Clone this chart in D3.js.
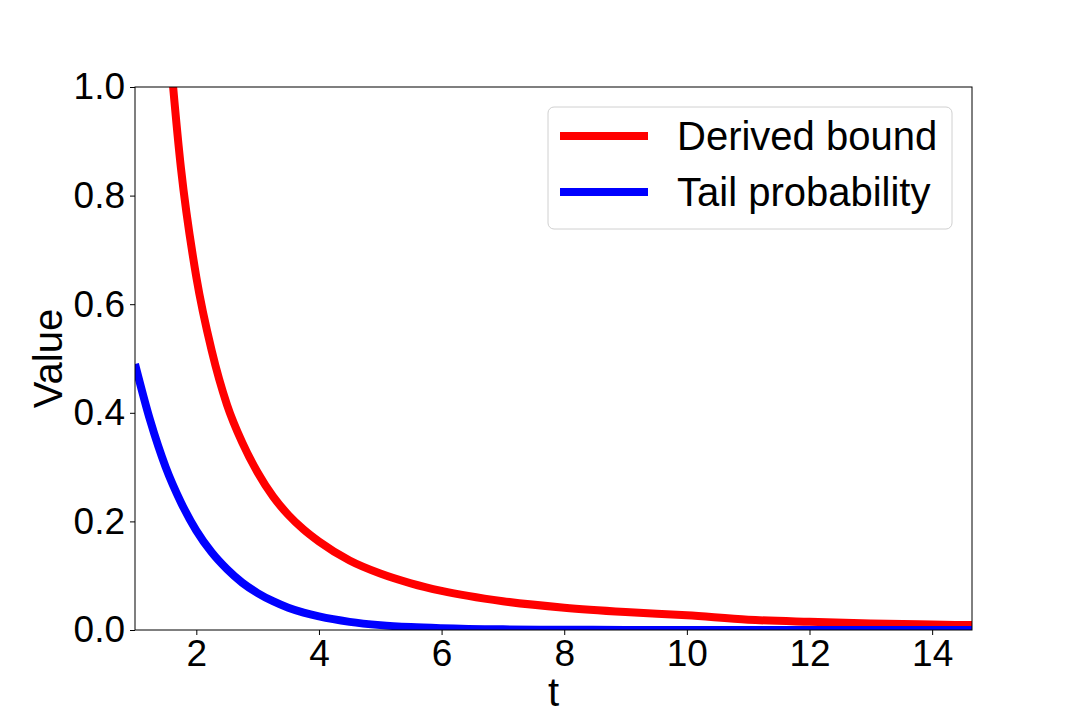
<html>

<head>
  <script src="https://d3js.org/d3.v7.min.js"></script>

  <style>
    body {
      margin: 0;
      background: #fff;
    }

    text {
      font-family: "Liberation Sans", Arial, sans-serif;
    }

    .axis path,
    .axis line {
      stroke: black;
      stroke-width: 1px;
    }

    .axis text {
      font-size: 37px;
      fill: black;
    }

    .curve {
      fill: none;
      stroke-width: 8px;
    }
  </style>
</head>

<body>

  <svg id="chart" height="720" width="1080"></svg>

  <script>

    // data
    const tValues = [1, 1.25, 1.5, 1.75, 2, 2.25, 2.5, 2.75, 3, 3.25, 3.5, 3.75, 4, 4.5, 5, 5.5, 6, 7, 8, 9, 10, 11, 12, 13, 14, 14.65];
    const derivedBound = [null, null, 1.16, 0.85, 0.65, 0.515, 0.415, 0.345, 0.29, 0.246, 0.212, 0.185, 0.163, 0.128, 0.104, 0.086, 0.072, 0.053, 0.041, 0.033, 0.027, 0.019, 0.015, 0.012, 0.010, 0.009];
    const tailProbability = [0.49, 0.385, 0.30, 0.235, 0.183, 0.143, 0.112, 0.087, 0.068, 0.053, 0.041, 0.032, 0.025, 0.015, 0.009, 0.0055, 0.0034, 0.0012, 0.0005, 0.0002, 0.0001, 0, 0, 0, 0, 0];
    const seriesNames = ["Derived bound", "Tail probability"];
    const seriesColors = ["#ff0000", "#0000ff"];
    const xTicks = [2, 4, 6, 8, 10, 12, 14];
    const yTicks = [0, 0.2, 0.4, 0.6, 0.8, 1.0];

    const svg = d3.select("#chart");
    const margin = { top: 87, right: 108, bottom: 90, left: 135 };
    const plotWidth = svg.attr("width") - margin.left - margin.right;
    const plotHeight = svg.attr("height") - margin.top - margin.bottom;

    const plot = svg.append("g")
      .attr("transform", `translate(${margin.left},${margin.top})`);

    const x = d3.scaleLinear().domain([1, 14.65]).range([0, plotWidth]);
    const y = d3.scaleLinear().domain([0, 1]).range([plotHeight, 0]);

    plot.append("clipPath").attr("id", "plotClip")
      .append("rect")
      .attr("width", plotWidth)
      .attr("height", plotHeight);

    const series = [derivedBound, tailProbability];

    const line = d3.line()
      .defined(d => d[1] !== null)
      .x(d => x(d[0]))
      .y(d => y(d[1]))
      .curve(d3.curveMonotoneX);

    series.forEach((vals, i) => {
      plot.append("path")
        .attr("class", "curve")
        .attr("clip-path", "url(#plotClip)")
        .attr("stroke", seriesColors[i])
        .attr("d", line(tValues.map((t, j) => [t, vals[j]])));
    });

    // frame
    plot.append("rect")
      .attr("width", plotWidth)
      .attr("height", plotHeight)
      .attr("fill", "none")
      .attr("stroke", "black")
      .attr("stroke-width", 1);

    plot.append("g")
      .attr("class", "axis")
      .attr("transform", `translate(0,${plotHeight})`)
      .call(d3.axisBottom(x).tickValues(xTicks).tickSize(5).tickPadding(5).tickFormat(d3.format("d")))
      .call(g => g.select(".domain").remove());

    plot.append("g")
      .attr("class", "axis")
      .call(d3.axisLeft(y).tickValues(yTicks).tickSize(5).tickPadding(5).tickFormat(d3.format(".1f")))
      .call(g => g.select(".domain").remove());

    // axis labels
    svg.append("text")
      .attr("x", margin.left + plotWidth / 2)
      .attr("y", 706)
      .attr("text-anchor", "middle")
      .style("font-size", "40px")
      .text("t");

    svg.append("text")
      .attr("transform", `translate(62,${margin.top + plotHeight / 2}) rotate(-90)`)
      .attr("text-anchor", "middle")
      .style("font-size", "40px")
      .text("Value");

    // legend
    const legend = svg.append("g").attr("transform", "translate(548,107)");
    legend.append("rect")
      .attr("width", 404)
      .attr("height", 122)
      .attr("rx", 6)
      .attr("fill", "white")
      .attr("fill-opacity", 0.8)
      .attr("stroke", "#d0d0d0");

    seriesNames.forEach((name, i) => {
      const yPos = 29 + i * 56;
      legend.append("line")
        .attr("x1", 12).attr("x2", 100)
        .attr("y1", yPos).attr("y2", yPos)
        .attr("stroke", seriesColors[i])
        .attr("stroke-width", 8);
      legend.append("text")
        .attr("x", 129)
        .attr("y", yPos + 14)
        .style("font-size", "40px")
        .text(name);
    });

  </script>

</body>

</html>
